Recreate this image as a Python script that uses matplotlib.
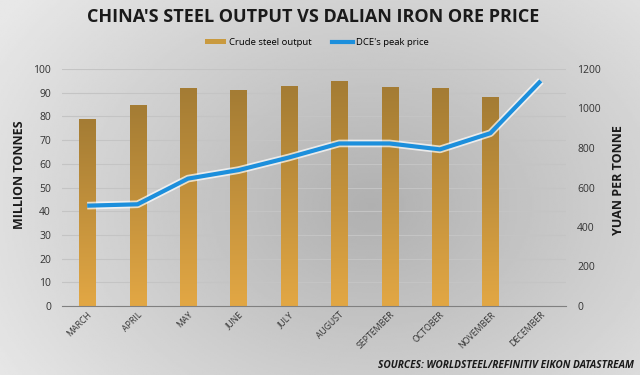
import numpy as np
import matplotlib.pyplot as plt
import matplotlib.patheffects as pe
from matplotlib.colors import LinearSegmentedColormap
from matplotlib.lines import Line2D
from matplotlib.patches import Patch

months = ["MARCH", "APRIL", "MAY", "JUNE", "JULY", "AUGUST",
          "SEPTEMBER", "OCTOBER", "NOVEMBER", "DECEMBER"]
steel_output = [79, 85, 92, 91, 93, 95, 92.5, 92, 88, np.nan]
dce_price = [508, 515, 645, 688, 752, 823, 823, 793, 875, 1140]

plt.rcParams['font.family'] = ['Open Sans', 'DejaVu Sans']

fig = plt.figure(figsize=(6.4, 3.75), dpi=100)

# grey radial-ish background
bg = fig.add_axes([0, 0, 1, 1], zorder=-10)
yy, xx = np.mgrid[0:1:200j, 0:1:340j]
d = np.sqrt(((xx - 0.58) / 0.7) ** 2 + ((yy - 0.55) / 0.9) ** 2)
bg.imshow(0.69 + 0.22 * np.clip(d, 0, 1), cmap='gray', vmin=0, vmax=1,
          aspect='auto', extent=[0, 1, 0, 1])
bg.axis('off')

ax = fig.add_axes([62 / 640, 69 / 375, 504 / 640, 237 / 375])
ax.patch.set_alpha(0)
x = np.arange(len(months))

bar_cmap = LinearSegmentedColormap.from_list('gold', ['#e2a744', '#a47c34'])
bars = ax.bar(x, steel_output, width=0.32, color='none', zorder=2)
grad = np.linspace(0, 1, 100).reshape(-1, 1)
for b in bars:
    h = b.get_height()
    if np.isnan(h):
        continue
    im = ax.imshow(grad, cmap=bar_cmap, origin='lower', aspect='auto',
                   extent=[b.get_x(), b.get_x() + b.get_width(), 0, h], zorder=2)
    im.set_clip_path(b)

ax.set_xlim(-0.5, len(months) - 0.5)
ax.set_ylim(0, 100)
ax.set_yticks(range(0, 101, 10))
ax.yaxis.grid(True, color='#c4c4c4', linewidth=0.8)
ax.set_axisbelow(True)
for s in ['top', 'right', 'left']:
    ax.spines[s].set_visible(False)
ax.spines['bottom'].set_color('#808080')
ax.tick_params(axis='y', length=0, labelsize=7.5, colors='#333333', pad=8)
ax.tick_params(axis='x', length=0, labelsize=6.3, colors='#333333', pad=3)
ax.set_xticks(x)
ax.set_xticklabels(months, rotation=45, ha='right', rotation_mode='anchor')

ax2 = ax.twinx()
ax2.set_ylim(0, 1200)
ax2.set_yticks(range(0, 1201, 200))
for s in ax2.spines.values():
    s.set_visible(False)
ax2.tick_params(axis='y', length=0, labelsize=7.5, colors='#333333', pad=8)
ax2.plot(x, dce_price, color='#1c8fdc', linewidth=3.0, zorder=5,
         solid_capstyle='butt',
         path_effects=[pe.Stroke(linewidth=5.5, foreground='white', alpha=0.7), pe.Normal()])

fig.text(20 / 640, 1 - 175 / 375, 'MILLION TONNES', rotation=90, ha='center', va='center',
         fontsize=9, fontweight='bold', color='#1a1a1a')
fig.text(618 / 640, 1 - 180 / 375, 'YUAN PER TONNE', rotation=90, ha='center', va='center',
         fontsize=9, fontweight='bold', color='#1a1a1a')

fig.text(0.49, 0.955, "CHINA'S STEEL OUTPUT VS DALIAN IRON ORE PRICE", ha='center', va='center',
         fontsize=13, fontweight='bold', color='#1a1a1a')

handles = [Patch(facecolor='#c99a3f', edgecolor='none'),
           Line2D([0], [0], color='#1c8fdc', linewidth=3)]
fig.legend(handles, ['Crude steel output', "DCE's peak price"], loc='center',
           bbox_to_anchor=(0.495, 0.887), ncol=2, frameon=False, fontsize=6.8,
           handlelength=2.2, handleheight=0.5, columnspacing=2.2, handletextpad=0.3)

fig.text(0.99, 0.025, 'SOURCES: WORLDSTEEL/REFINITIV EIKON DATASTREAM', ha='right', va='center',
         fontsize=7.3, fontweight='bold', style='italic', color='#1a1a1a')

fig.savefig('out.png', dpi=100)
